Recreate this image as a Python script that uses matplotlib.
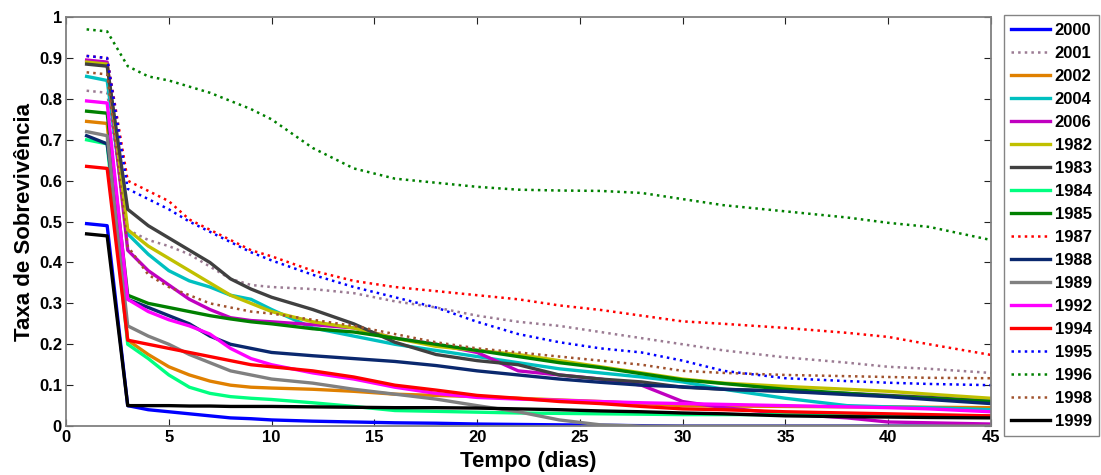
import matplotlib.pyplot as plt

plt.rcParams['font.family'] = ['Liberation Sans', 'DejaVu Sans']

# Survival rate per year at these days
days = [1, 2, 3, 4, 5, 6, 7, 8, 9, 10, 12, 14, 16, 18, 20, 22, 24, 26, 28, 30, 32, 35, 38, 40, 42, 45]

y2000 = [0.495, 0.49, 0.05, 0.04, 0.035, 0.03, 0.025, 0.02, 0.018, 0.015, 0.012, 0.01, 0.008, 0.007, 0.005, 0.004, 0.003, 0.002, 0.001, 0, 0, 0, 0, 0, 0, 0]
y2001 = [0.82, 0.815, 0.48, 0.455, 0.44, 0.42, 0.39, 0.36, 0.345, 0.34, 0.335, 0.325, 0.305, 0.29, 0.27, 0.255, 0.245, 0.23, 0.215, 0.2, 0.185, 0.168, 0.155, 0.145, 0.14, 0.13]
y2002 = [0.745, 0.74, 0.21, 0.175, 0.145, 0.125, 0.11, 0.1, 0.095, 0.093, 0.09, 0.085, 0.078, 0.075, 0.072, 0.068, 0.064, 0.06, 0.055, 0.05, 0.049, 0.048, 0.047, 0.047, 0.046, 0.045]
y2004 = [0.855, 0.845, 0.47, 0.42, 0.38, 0.355, 0.34, 0.32, 0.31, 0.285, 0.24, 0.22, 0.2, 0.185, 0.17, 0.155, 0.14, 0.13, 0.12, 0.108, 0.09, 0.068, 0.05, 0.047, 0.045, 0.04]
y2006 = [0.895, 0.89, 0.43, 0.38, 0.345, 0.31, 0.285, 0.265, 0.258, 0.255, 0.248, 0.24, 0.215, 0.2, 0.18, 0.135, 0.125, 0.115, 0.1, 0.06, 0.045, 0.03, 0.02, 0.01, 0.008, 0.005]
y1982 = [0.89, 0.885, 0.48, 0.44, 0.41, 0.38, 0.35, 0.32, 0.3, 0.28, 0.255, 0.24, 0.215, 0.195, 0.185, 0.175, 0.16, 0.145, 0.13, 0.115, 0.105, 0.097, 0.09, 0.085, 0.078, 0.068]
y1983 = [0.885, 0.88, 0.53, 0.49, 0.46, 0.43, 0.4, 0.36, 0.335, 0.315, 0.285, 0.25, 0.205, 0.175, 0.16, 0.15, 0.125, 0.115, 0.108, 0.095, 0.09, 0.085, 0.08, 0.075, 0.07, 0.06]
y1984 = [0.70, 0.69, 0.2, 0.165, 0.125, 0.095, 0.08, 0.072, 0.068, 0.065, 0.057, 0.048, 0.038, 0.036, 0.034, 0.032, 0.031, 0.03, 0.029, 0.028, 0.028, 0.028, 0.027, 0.027, 0.026, 0.025]
y1985 = [0.77, 0.765, 0.32, 0.3, 0.29, 0.28, 0.27, 0.262, 0.255, 0.25, 0.238, 0.23, 0.215, 0.2, 0.185, 0.17, 0.155, 0.143, 0.128, 0.113, 0.104, 0.09, 0.08, 0.073, 0.068, 0.06]
y1987 = [0.905, 0.9, 0.6, 0.575, 0.55, 0.505, 0.48, 0.455, 0.43, 0.415, 0.38, 0.355, 0.34, 0.33, 0.32, 0.31, 0.295, 0.284, 0.27, 0.256, 0.25, 0.24, 0.228, 0.218, 0.2, 0.174]
y1988 = [0.71, 0.69, 0.31, 0.29, 0.27, 0.25, 0.22, 0.2, 0.19, 0.18, 0.172, 0.165, 0.158, 0.148, 0.135, 0.125, 0.115, 0.107, 0.1, 0.096, 0.09, 0.085, 0.077, 0.072, 0.065, 0.055]
y1989 = [0.72, 0.71, 0.245, 0.22, 0.2, 0.175, 0.155, 0.135, 0.125, 0.115, 0.105, 0.09, 0.078, 0.066, 0.05, 0.035, 0.015, 0.003, 0, 0, 0, 0, 0, 0, 0, 0]
y1992 = [0.795, 0.79, 0.31, 0.28, 0.26, 0.245, 0.225, 0.19, 0.165, 0.15, 0.13, 0.115, 0.095, 0.08, 0.07, 0.066, 0.063, 0.06, 0.057, 0.055, 0.053, 0.05, 0.047, 0.045, 0.042, 0.035]
y1994 = [0.635, 0.63, 0.21, 0.2, 0.19, 0.18, 0.17, 0.16, 0.15, 0.145, 0.135, 0.12, 0.1, 0.088, 0.075, 0.068, 0.06, 0.055, 0.048, 0.042, 0.04, 0.035, 0.032, 0.03, 0.028, 0.025]
y1995 = [0.905, 0.9, 0.58, 0.555, 0.53, 0.5, 0.475, 0.45, 0.425, 0.405, 0.37, 0.34, 0.315, 0.29, 0.255, 0.225, 0.205, 0.19, 0.18, 0.16, 0.135, 0.117, 0.11, 0.106, 0.103, 0.1]
y1996 = [0.97, 0.965, 0.88, 0.855, 0.845, 0.83, 0.815, 0.795, 0.775, 0.75, 0.68, 0.63, 0.605, 0.595, 0.585, 0.578, 0.576, 0.575, 0.57, 0.555, 0.54, 0.525, 0.51, 0.497, 0.487, 0.455]
y1998 = [0.865, 0.86, 0.44, 0.37, 0.34, 0.32, 0.3, 0.29, 0.28, 0.275, 0.26, 0.245, 0.225, 0.205, 0.19, 0.18, 0.17, 0.16, 0.15, 0.135, 0.13, 0.125, 0.122, 0.12, 0.118, 0.117]
y1999 = [0.47, 0.465, 0.05, 0.05, 0.05, 0.049, 0.049, 0.048, 0.048, 0.048, 0.047, 0.046, 0.045, 0.045, 0.044, 0.042, 0.04, 0.037, 0.035, 0.032, 0.03, 0.025, 0.023, 0.022, 0.021, 0.02]

# (label, values, colour, dotted?)
series = [
    ('2000', y2000, '#0000ff', False),
    ('2001', y2001, '#9b7b93', True),
    ('2002', y2002, '#e08000', False),
    ('2004', y2004, '#00c0c0', False),
    ('2006', y2006, '#c000c0', False),
    ('1982', y1982, '#c0c000', False),
    ('1983', y1983, '#404040', False),
    ('1984', y1984, '#00ff80', False),
    ('1985', y1985, '#008000', False),
    ('1987', y1987, '#ff0000', True),
    ('1988', y1988, '#0a286e', False),
    ('1989', y1989, '#808080', False),
    ('1992', y1992, '#ff00ff', False),
    ('1994', y1994, '#ff0000', False),
    ('1995', y1995, '#0000ff', True),
    ('1996', y1996, '#008000', True),
    ('1998', y1998, '#a0522d', True),
    ('1999', y1999, '#000000', False),
]

fig = plt.figure(figsize=(11.01, 4.75), dpi=100)
ax = fig.add_axes([0.06, 0.103, 0.84, 0.861])

for label, vals, color, dotted in series:
    if dotted:
        ax.plot(days, vals, color=color, linestyle=':', linewidth=1.8, label=label)
    else:
        ax.plot(days, vals, color=color, linestyle='-', linewidth=2.4, label=label)

ax.set_xlim(0, 45)
ax.set_ylim(0, 1)
ax.set_xticks(range(0, 46, 5))
ax.set_yticks([i / 10 for i in range(11)])
ax.set_yticklabels(['0'] + ['0.%d' % i for i in range(1, 10)] + ['1'])
ax.tick_params(direction='in', top=True, right=True, length=5, labelsize=12, pad=3, color='#222222')
for t in ax.get_xticklabels() + ax.get_yticklabels():
    t.set_fontweight('bold')
for s in ax.spines.values():
    s.set_color('#808080')
    s.set_linewidth(1.3)

ax.set_xlabel('Tempo (dias)', fontsize=16, fontweight='bold', labelpad=4)
ax.set_ylabel('Taxa de Sobrevivência', fontsize=16, fontweight='bold', labelpad=3)

leg = ax.legend(loc='upper left', bbox_to_anchor=(1.014, 1.005), borderaxespad=0,
                fancybox=False, handlelength=2.3, handletextpad=0.3, labelspacing=0.48,
                borderpad=0.45, prop={'weight': 'bold', 'size': 12})
leg.get_frame().set_edgecolor('#666666')
leg.get_frame().set_linewidth(1.0)

fig.savefig('out.png', dpi=100)
